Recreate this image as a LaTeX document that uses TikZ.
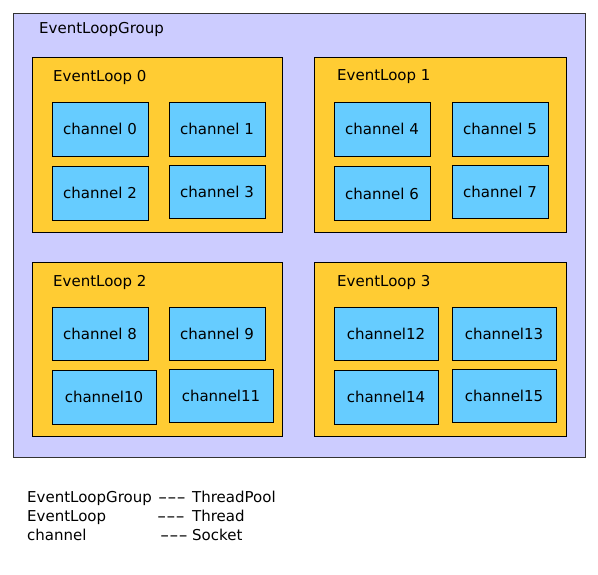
\documentclass[tikz,border=0pt]{standalone}
\usepackage{fontspec}
\setmainfont{DejaVu Sans}
\usetikzlibrary{positioning}

\definecolor{groupbg}{RGB}{204,204,255}
\definecolor{loopbg}{RGB}{255,204,51}
\definecolor{chanbg}{RGB}{102,204,255}

\newcommand{\dashsep}{\scalebox{1.7}[1]{-}\scalebox{1.7}[1]{-}\scalebox{1.7}[1]{-}}

\begin{document}
\begin{tikzpicture}[
x=1pt, y=-1pt,
font=\fontsize{15}{18}\selectfont,
groupbox/.style={
	rectangle,
	draw=black!80,
	fill=groupbg,
	line width=0.8pt,
	minimum width=572pt,
	minimum height=444pt,
	inner sep=0pt
},
loopbox/.style={
	rectangle,
	draw=black,
	fill=loopbg,
	line width=0.8pt,
	minimum width=250pt,
	minimum height=175pt,
	inner sep=0pt
},
chanbox/.style={
	rectangle,
	draw=black,
	fill=chanbg,
	line width=0.8pt,
	minimum width=96pt,
	minimum height=54pt,
	inner sep=0pt
},
widebox/.style={
	chanbox,
	minimum width=104pt
},
title/.style={
	anchor=west,
	inner sep=0pt
},
legend/.style={
	anchor=base west,
	inner sep=0pt
}
]

\useasboundingbox (0,0) rectangle (598,574);

% Group
\node[groupbox] (group) at (299,235) {};
\node[title] (grouplabel) at (39,29) {EventLoopGroup};

% Event loops
\node[loopbox] (loop0) at (157,144.5) {};
\node[loopbox, minimum width=252pt] (loop1) at (440,144.5) {};
\node[loopbox, minimum height=174pt] (loop2) at (157,349) {};
\node[loopbox, minimum width=252pt, minimum height=174pt] (loop3) at (440,349) {};

\node[title] (loop0label) at (53,77) {EventLoop 0};
\node[title] (loop1label) at (337,77) {EventLoop 1};
\node[title] (loop2label) at (53,282) {EventLoop 2};
\node[title] (loop3label) at (337,282) {EventLoop 3};

% Channels
\node[chanbox] (chan0) at (100,129) {channel 0};
\node[chanbox] (chan1) at (217,129) {channel 1};
\node[chanbox] (chan2) at (100,193) {channel 2};
\node[chanbox, minimum height=53pt] (chan3) at (217,191.5) {channel 3};

\node[chanbox] (chan4) at (382,129) {channel 4};
\node[chanbox] (chan5) at (500,129) {channel 5};
\node[chanbox] (chan6) at (382,193.5) {channel 6};
\node[chanbox, minimum height=53pt] (chan7) at (500,191.5) {channel 7};

\node[chanbox, minimum height=53pt] (chan8) at (100,333.5) {channel 8};
\node[chanbox, minimum height=53pt] (chan9) at (217,333.5) {channel 9};
\node[widebox] (chan10) at (104,397) {channel10};
\node[widebox, minimum height=53pt] (chan11) at (221,395.5) {channel11};

\node[widebox, minimum height=53pt] (chan12) at (386,333.5) {channel12};
\node[widebox, minimum height=53pt] (chan13) at (504,333.5) {channel13};
\node[widebox] (chan14) at (386,397) {channel14};
\node[widebox, minimum height=53pt] (chan15) at (504,395.5) {channel15};

% Legend
\node[legend] (leg1) at (27,502) {EventLoopGroup};
\node[legend] (leg1dash) at (158,502) {\dashsep};
\node[legend] (leg1text) at (192,502) {ThreadPool};
\node[legend] (leg2) at (27,521) {EventLoop};
\node[legend] (leg2dash) at (157,521) {\dashsep};
\node[legend] (leg2text) at (192,521) {Thread};
\node[legend] (leg3) at (27,540) {channel};
\node[legend] (leg3dash) at (160,540) {\dashsep};
\node[legend] (leg3text) at (192,540) {Socket};

\end{tikzpicture}
\end{document}
